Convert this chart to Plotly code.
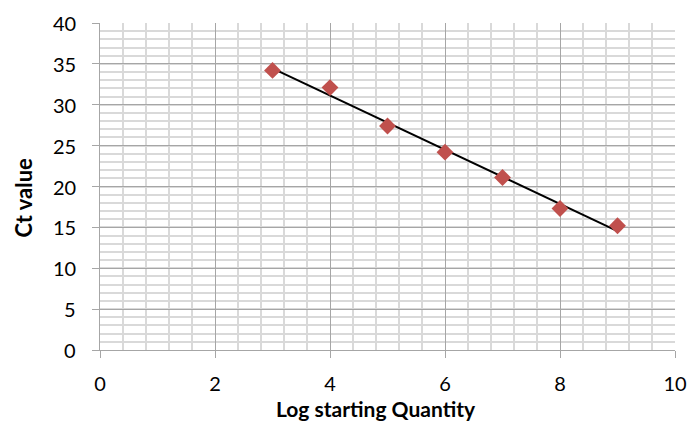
import numpy as np
import plotly.graph_objects as go

log_qty = [3, 4, 5, 6, 7, 8, 9]
ct_values = [34.2, 32.1, 27.4, 24.2, 21.1, 17.3, 15.2]
y_tick_values = [0, 5, 10, 15, 20, 25, 30, 35, 40]
y_tick_labels = ["0", "5", "10", "15", "20", "25", "30", "35", "40"]

slope, intercept = np.polyfit(log_qty, ct_values, 1)
trend_x = [min(log_qty), max(log_qty)]
trend_y = [slope * x + intercept for x in trend_x]

fig = go.Figure()
fig.add_trace(go.Scatter(x=trend_x, y=trend_y, mode="lines",
                         line=dict(color="black", width=2), showlegend=False))
fig.add_trace(go.Scatter(x=log_qty, y=ct_values, mode="markers",
                         marker=dict(symbol="diamond", size=13, color="#C0504D"),
                         showlegend=False))

font_family = "Lato, Carlito, sans-serif"

annotations = [dict(text=lbl, xref="paper", yref="y", x=0, y=val, xshift=-22,
                    xanchor="right", yanchor="middle", showarrow=False,
                    font=dict(family=font_family, size=20, color="#000"))
               for val, lbl in zip(y_tick_values, y_tick_labels)]
annotations.append(dict(text="<b>Ct value</b>", xref="paper", yref="paper",
                        x=0, y=0.5, xshift=-77, yshift=-11, textangle=-90,
                        showarrow=False, xanchor="center", yanchor="middle",
                        font=dict(family=font_family, size=22, color="#000")))
annotations.append(dict(text="<b>Log starting Quantity</b>", xref="paper", yref="paper",
                        x=0.5, y=0, xshift=-12, yshift=-58, showarrow=False,
                        xanchor="center", yanchor="middle",
                        font=dict(family=font_family, size=21, color="#000")))

fig.update_layout(
    width=689, height=421,
    margin=dict(l=100, r=14, t=23, b=71, autoexpand=False),
    plot_bgcolor="white", paper_bgcolor="white",
    font=dict(family=font_family, size=20, color="#000"),
    xaxis=dict(range=[0, 10], dtick=2, tick0=0,
               showgrid=True, gridcolor="#A6A6A6", gridwidth=1,
               minor=dict(dtick=0.4, showgrid=True, gridcolor="#D9D9D9", gridwidth=2),
               showline=True, linecolor="#A6A6A6", linewidth=1,
               ticks="outside", ticklen=7, tickcolor="#A6A6A6",
               ticklabelstandoff=9,
               zeroline=False, automargin=False),
    yaxis=dict(range=[0, 40], tickvals=y_tick_values,
               showgrid=True, gridcolor="#A6A6A6", gridwidth=1,
               minor=dict(dtick=1, showgrid=True, gridcolor="#D9D9D9", gridwidth=2),
               showline=True, linecolor="#A6A6A6", linewidth=1,
               ticks="outside", ticklen=7, tickcolor="#A6A6A6",
               showticklabels=False,
               zeroline=False, automargin=False),
    annotations=annotations,
)
fig.write_html("out.html", config={"displayModeBar": False},
               post_script="document.body.style.margin='0';")
